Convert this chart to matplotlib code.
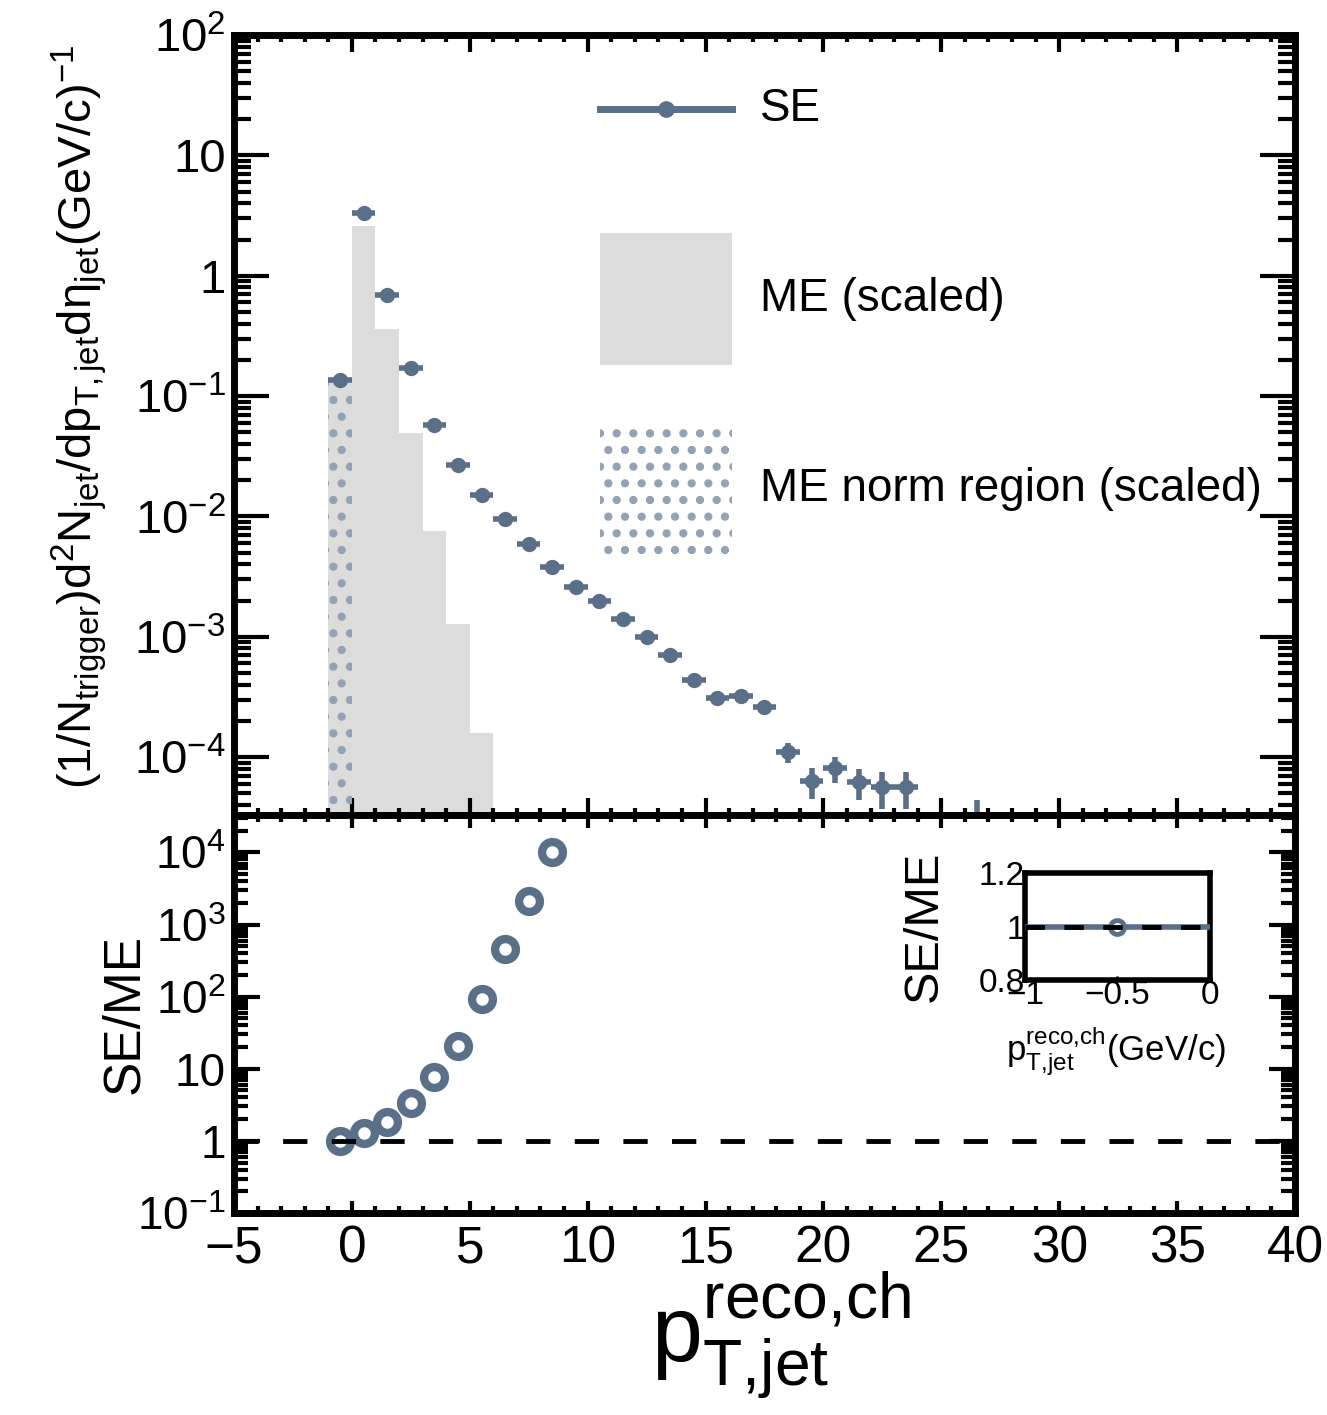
import numpy as np
import matplotlib
matplotlib.use("Agg")
import matplotlib.pyplot as plt
from matplotlib.ticker import MultipleLocator, FixedLocator, FixedFormatter, LogLocator, NullFormatter
from matplotlib.lines import Line2D
from matplotlib.patches import Patch
from matplotlib.legend_handler import HandlerBase

plt.rcParams['font.family'] = ['Liberation Sans', 'DejaVu Sans']
plt.rcParams['mathtext.fontset'] = 'custom'
plt.rcParams['mathtext.rm'] = 'Liberation Sans'
plt.rcParams['mathtext.it'] = 'Liberation Sans:italic'
plt.rcParams['mathtext.bf'] = 'Liberation Sans:bold'
plt.rcParams['hatch.linewidth'] = 3.5

# --- data ---
# same-event (SE) spectrum, bin centres in GeV/c
se_x = [-0.5, 0.5, 1.5, 2.5, 3.5, 4.5, 5.5, 6.5, 7.5, 8.5, 9.5, 10.5, 11.5, 12.5,
        13.5, 14.5, 15.5, 16.5, 17.5, 18.5, 19.5, 20.5, 21.5, 22.5, 23.5, 26.5]
se_y = [0.135, 3.3, 0.69, 0.17, 0.058, 0.027, 0.0152, 0.0096, 0.0059, 0.0038, 0.0026,
        0.0020, 0.0014, 0.00100, 0.00071, 0.00044, 0.00031, 0.00032, 0.00026,
        1.1e-4, 6.3e-5, 8.1e-5, 6.2e-5, 5.6e-5, 5.6e-5, 2.6e-5]
se_yerr = [0.002, 0.03, 0.01, 0.003, 0.001, 0.0005, 0.0003, 0.0002, 0.0001, 0.00008,
           0.00006, 0.00005, 0.00004, 0.00003, 0.00002, 0.00002, 0.00002, 0.00002,
           0.00002, 2.0e-5, 1.8e-5, 2.0e-5, 1.8e-5, 1.9e-5, 1.9e-5, 1.8e-5]

# mixed-event (ME, scaled) histogram, left bin edges
me_edges = [-1, 0, 1, 2, 3, 4, 5]
me_y = [0.135, 2.6, 0.36, 0.049, 0.0075, 0.00127, 0.00016]

# normalisation region
norm_edge = [-1]
norm_y = [0.135]

# SE/ME ratio
ratio_x = [-0.5, 0.5, 1.5, 2.5, 3.5, 4.5, 5.5, 6.5, 7.5, 8.5]
ratio_y = [1.0, 1.27, 1.85, 3.4, 7.7, 21, 92, 460, 2150, 1.0e4]

top_ticks = [1e-4, 1e-3, 1e-2, 1e-1, 1, 10, 100]
top_labels = [r'$10^{-4}$', r'$10^{-3}$', r'$10^{-2}$', r'$10^{-1}$', '1', '10', r'$10^{2}$']
bot_ticks = [1e-1, 1, 10, 1e2, 1e3, 1e4]
bot_labels = [r'$10^{-1}$', '1', '10', r'$10^{2}$', r'$10^{3}$', r'$10^{4}$']

se_color = '#5a6f88'
me_color = '#dcdcdc'
hatch_color = '#93a2b4'


class CenteredLine(HandlerBase):
    # line + marker centred in the same box the patches use
    def create_artists(self, legend, orig, xdescent, ydescent, width, height, fontsize, trans):
        y = height / 2 - ydescent
        line = Line2D([-xdescent, width - xdescent], [y, y], color=orig.get_color(),
                      lw=orig.get_linewidth())
        mark = Line2D([width / 2 - xdescent], [y], ls='none', marker='o',
                      ms=orig.get_markersize(), color=orig.get_color())
        line.set_transform(trans)
        mark.set_transform(trans)
        return [line, mark]


fig = plt.figure(figsize=(13.27, 14.15), dpi=100)
ax1 = fig.add_axes([0.1763, 0.424, 0.7996, 0.5512])
ax2 = fig.add_axes([0.1763, 0.1428, 0.7996, 0.2812])

#%% top panel
ax1.bar(me_edges, me_y, width=1, align='edge', color=me_color, lw=0, zorder=1)
ax1.bar(norm_edge, norm_y, width=1, align='edge', facecolor='none', edgecolor=hatch_color,
        hatch='.', lw=0, zorder=2)
ax1.errorbar(se_x, se_y, xerr=0.5, yerr=se_yerr, fmt='o', color=se_color, ms=10,
             elinewidth=4, capsize=0, zorder=3)
ax1.set_yscale('log')
ax1.set_xlim(-5, 40)
ax1.set_ylim(3.3e-5, 100)
ax1.yaxis.set_major_locator(FixedLocator(top_ticks))
ax1.yaxis.set_major_formatter(FixedFormatter(top_labels))
ax1.yaxis.set_minor_locator(LogLocator(base=10, subs=np.arange(2, 10), numticks=20))
ax1.yaxis.set_minor_formatter(NullFormatter())
ax1.xaxis.set_major_locator(MultipleLocator(5))
ax1.xaxis.set_minor_locator(MultipleLocator(1))
ax1.tick_params(axis='x', which='both', labelbottom=False)
ax1.tick_params(axis='y', which='major', length=25, width=3, labelsize=34, pad=6)
ax1.tick_params(axis='y', which='minor', length=12, width=3)
ax1.tick_params(axis='x', which='major', length=12, width=3)
ax1.tick_params(axis='x', which='minor', length=5, width=3)
ax1.tick_params(which='both', direction='in', top=True, right=True)
ax1.set_ylabel(r'(1/N$_{\mathrm{trigger}}$)d$^{2}$N$_{\mathrm{jet}}$/dp$_{\mathrm{T{,}\,jet}}$'
               r'd$\mathrm{\eta}_{\mathrm{jet}}$(GeV/c)$^{-1}$', fontsize=34)
ax1.yaxis.set_label_coords(-0.118, 0.51)

se_handle = Line2D([], [], color=se_color, lw=5, marker='o', ms=11)
handles = [se_handle,
           Patch(facecolor=me_color, lw=0),
           Patch(facecolor='white', edgecolor=hatch_color, hatch='.', lw=0)]
ax1.legend(handles, ['SE', 'ME (scaled)', 'ME norm region (scaled)'], loc='upper left',
           bbox_to_anchor=(0.345, 0.99), frameon=False, fontsize=33, borderpad=0,
           borderaxespad=0, handlelength=2.88, handleheight=4.05, labelspacing=1.27,
           handletextpad=0.61, handler_map={se_handle: CenteredLine()})

#%% bottom panel
ax2.axhline(1, color='black', lw=3.5, dashes=(5, 5), zorder=4)
ax2.errorbar(ratio_x, ratio_y, xerr=0.5, fmt='o', color=se_color, mfc='white', mec=se_color,
             ms=15, mew=6, elinewidth=4, capsize=0, zorder=3)
ax2.set_yscale('log')
ax2.set_xlim(-5, 40)
ax2.set_ylim(0.1, 3.3e4)
ax2.yaxis.set_major_locator(FixedLocator(bot_ticks))
ax2.yaxis.set_major_formatter(FixedFormatter(bot_labels))
ax2.yaxis.set_minor_locator(LogLocator(base=10, subs=np.arange(2, 10), numticks=20))
ax2.yaxis.set_minor_formatter(NullFormatter())
ax2.xaxis.set_major_locator(MultipleLocator(5))
ax2.xaxis.set_minor_locator(MultipleLocator(1))
ax2.tick_params(axis='y', which='major', length=19, width=3, labelsize=33, pad=6)
ax2.tick_params(axis='y', which='minor', length=10, width=3)
ax2.tick_params(axis='x', which='major', length=9, width=3, labelsize=37, pad=8)
ax2.tick_params(axis='x', which='minor', length=5, width=3)
ax2.tick_params(which='both', direction='in', top=True, right=True)
ax2.set_ylabel('SE/ME', fontsize=37)
ax2.yaxis.set_label_coords(-0.08, 0.5)
ax2.set_xlabel(r'p$_{\mathrm{T{,}jet}}^{\mathrm{reco{,}ch}}$', fontsize=66)
ax2.xaxis.set_label_coords(0.516, -0.145)

for ax in (ax1, ax2):
    for s in ax.spines.values():
        s.set_linewidth(5)

#%% inset
ax3 = fig.add_axes([0.7724, 0.3074, 0.1394, 0.0756])
ax3.errorbar([-0.5], [1.0], xerr=0.5, fmt='o', color=se_color, mfc='white', mec=se_color,
             ms=10, mew=3.5, elinewidth=4, capsize=0, zorder=3)
ax3.axhline(1, color='black', lw=3.5, dashes=(4, 4), zorder=4)
ax3.set_xlim(-1, 0)
ax3.set_ylim(0.8, 1.2)
ax3.set_xticks([-1, -0.5, 0])
ax3.set_xticklabels(['\u22121', '\u22120.5', '0'])
ax3.set_yticks([0.8, 1, 1.2])
ax3.set_yticklabels(['0.8', '1', '1.2'])
ax3.tick_params(which='both', direction='in', length=3, width=2, labelsize=24, pad=0)
for s in ax3.spines.values():
    s.set_linewidth(4)
ax3.set_ylabel('SE/ME', fontsize=35)
ax3.yaxis.set_label_coords(-0.42, 0.5)
ax3.set_xlabel(r'p$_{\mathrm{T{,}jet}}^{\mathrm{reco{,}ch}}$(GeV/c)', fontsize=25)
ax3.xaxis.set_label_coords(0.49, -0.42)

fig.savefig('out.png', dpi=100)
